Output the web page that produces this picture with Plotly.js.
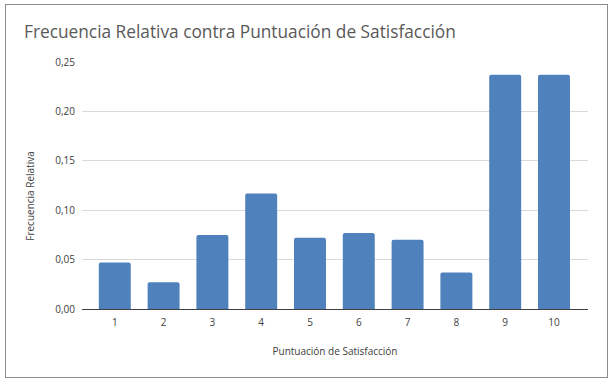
<!DOCTYPE html>
<html>
<head>
<meta charset="utf-8">
<script src="https://cdn.plot.ly/plotly-3.0.1.min.js"></script>
<style>
html,body{margin:0;padding:0;background:#fff;}
#chart{width:615px;height:384px;}
#frame{position:absolute;left:5px;top:4px;width:601px;height:372px;border:1px solid #8c8c8c;pointer-events:none;}
</style>
</head>
<body>
<div id="chart"></div>
<div id="frame"></div>
<script>
const categories = ['1','2','3','4','5','6','7','8','9','10'];
const frecuencia = [0.047, 0.027, 0.075, 0.117, 0.072, 0.077, 0.070, 0.037, 0.237, 0.237];
const yTicks = [0, 0.05, 0.10, 0.15, 0.20, 0.25];
const chartTitle = 'Frecuencia Relativa contra Puntuación de Satisfacción';
const xTitle = 'Puntuación de Satisfacción';
const yTitle = 'Frecuencia Relativa';

const font = 'Open Sans, Noto Sans, sans-serif';
Plotly.newPlot('chart', [{
  type: 'bar',
  x: categories,
  y: frecuencia,
  marker: {color: '#4f81bd', cornerradius: 2},
  hoverinfo: 'none'
}], {
  width: 615, height: 384,
  margin: {l: 82, r: 27, t: 62, b: 75},
  separators: ', ',
  bargap: 0.345,
  paper_bgcolor: '#fff', plot_bgcolor: '#fff',
  showlegend: false,
  title: {text: chartTitle,
    font: {family: font, size: 17.3, color: '#595959'}, x: 0, xref: 'container', xanchor: 'left',
    y: 1, yref: 'container', yanchor: 'top', pad: {l: 24, t: 26}},
  xaxis: {type: 'category', range: [-0.672, 9.697], showline: true, linecolor: '#404040', linewidth: 1,
    showgrid: false, ticks: 'outside', ticklen: 4, tickcolor: 'rgba(0,0,0,0)',
    tickfont: {family: font, size: 10, color: '#404040'},
    title: {text: xTitle, font: {family: font, size: 10, color: '#404040'}, standoff: 19}},
  yaxis: {range: [0, 0.25], tickvals: yTicks, tickformat: '.2f', showgrid: true, gridcolor: '#d9d9d9',
    zeroline: false, showline: false, ticks: 'outside', ticklen: 4, tickcolor: 'rgba(0,0,0,0)',
    tickfont: {family: font, size: 10, color: '#404040'}},
  annotations: [{text: yTitle, textangle: -90, xref: 'paper', yref: 'paper', x: -0.102, y: 0.46,
    xanchor: 'center', yanchor: 'middle', showarrow: false,
    font: {family: font, size: 10, color: '#404040'}}]
}, {displayModeBar: false, staticPlot: true});
</script>
</body>
</html>
